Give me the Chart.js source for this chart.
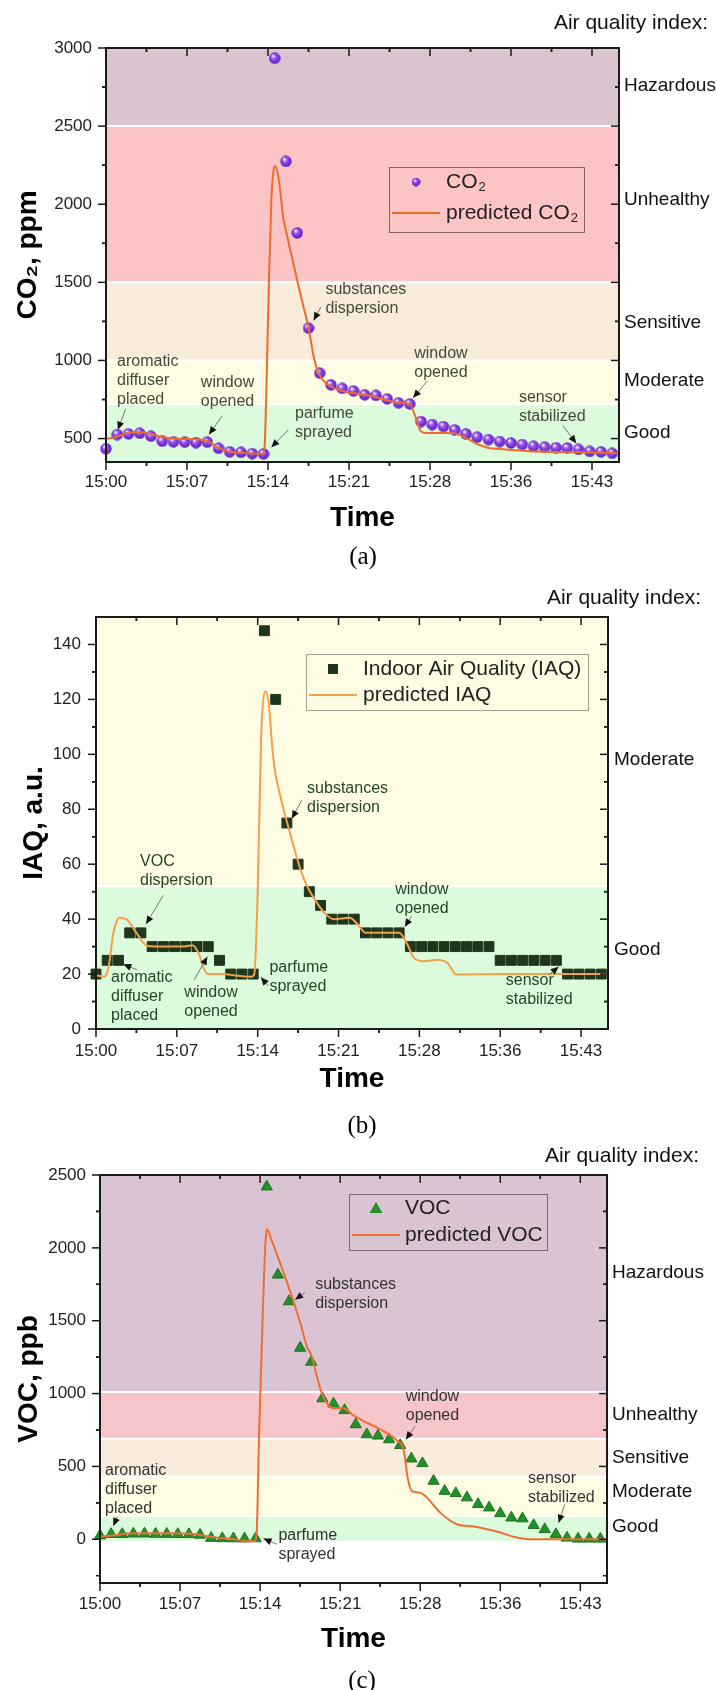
<!DOCTYPE html>
<html>
<head>
<meta charset="utf-8">
<title>Air quality index</title>
<script src="https://cdn.jsdelivr.net/npm/chart.js"></script>
<style>
  body { margin: 0; background: #fff; }
  #page { position: relative; width: 717px; height: 1690px; overflow: hidden; font-family: "Liberation Sans", Arial, sans-serif; }
  canvas { position: absolute; left: 0; }
  .aqi { position: absolute; font-size: 21px; line-height: 24px; color: #111; white-space: nowrap; }
  .cap { position: absolute; width: 60px; text-align: center; font-family: "Liberation Serif", "Times New Roman", serif; font-size: 25px; line-height: 28px; color: #000; }
</style>
</head>
<body>
<div id="page">
  <canvas id="chartA" width="717" height="570" style="top:0"></canvas>
  <canvas id="chartB" width="717" height="580" style="top:570px"></canvas>
  <canvas id="chartC" width="717" height="540" style="top:1150px"></canvas>
  <div class="aqi" style="top:10px; right:9px">Air quality index:</div>
  <div class="aqi" style="top:585px; right:16px">Air quality index:</div>
  <div class="aqi" style="top:1143px; right:18px">Air quality index:</div>
  <div class="cap" style="left:333px; top:542px">(a)</div>
  <div class="cap" style="left:332px; top:1111px">(b)</div>
  <div class="cap" style="left:332px; top:1666px">(c)</div>
</div>
<script>
/* time axis, minutes after 15:00 */
const minutes = [0, 1, 2, 3, 4, 5, 6, 7, 8, 9, 10, 11, 12, 13, 14, 15, 16, 17, 18, 19, 20, 21, 22,
  23, 24, 25, 26, 27, 28, 29, 30, 31, 32, 33, 34, 35, 36, 37, 38, 39, 40, 41, 42, 43, 44, 45];
const timeTickValues = [0, 7.2, 14.4, 21.6, 28.8, 36, 43.2];
const timeTickLabels = ['15:00', '15:07', '15:14', '15:21', '15:28', '15:36', '15:43'];
const timeMax = 45.6;

/* (a) CO2 */
const co2Values = [435, 526, 530, 534, 515, 483, 479, 477, 474, 477, 438, 415, 412, 404, 402, 2934,
  2274, 1816, 1207, 919, 844, 821, 805, 780, 776, 754, 729, 722, 609, 590, 577, 556, 530, 509, 494,
  481, 472, 462, 451, 445, 442, 440, 431, 418, 415, 406];
const predCo2T = [0, 1, 2, 3, 4, 5, 6, 7, 8, 9, 10, 11, 12, 13, 13.9, 14.1, 14.3, 14.5, 14.7, 14.9,
  15.05, 15.3, 15.5, 15.7, 16, 16.5, 17, 17.5, 18, 18.5, 19, 20, 21, 22, 23, 24, 25, 26, 27, 27.5,
  28, 28.5, 30, 31, 32, 33, 34, 35, 37, 39, 42, 45.6];
const predCo2V = [498, 512, 538, 540, 528, 510, 500, 497, 495, 485, 440, 415, 410, 405, 402, 450,
  950, 1550, 2030, 2220, 2244, 2180, 2080, 1940, 1830, 1670, 1510, 1360, 1210, 1010, 905, 833, 805,
  790, 780, 765, 745, 730, 720, 640, 545, 535, 535, 532, 505, 465, 440, 433, 422, 415, 412, 408];
const co2Ticks = [500, 1000, 1500, 2000, 2500, 3000];
const co2BandNames = ['Good', 'Moderate', 'Sensitive', 'Unhealthy', 'Hazardous'];
const co2BandLimits = [350, 720, 1000, 1500, 2500, 3000];
const co2BandLabelAt = [535, 870, 1240, 2030, 2760];

/* (b) IAQ */
const iaqValues = [20, 25, 25, 35, 35, 30, 30, 30, 30, 30, 30, 25, 20, 20, 20, 145, 120, 75, 60, 50,
  45, 40, 40, 40, 35, 35, 35, 35, 30, 30, 30, 30, 30, 30, 30, 30, 25, 25, 25, 25, 25, 25, 20, 20, 20, 20];
const predIaqT = [0, 0.7, 1.1, 1.55, 2.1, 2.7, 3.6, 4.5, 5.4, 7.7, 8.6, 9.2, 9.6, 10, 11, 13.8, 14.1,
  14.4, 14.7, 15.1, 15.4, 15.65, 15.9, 16.4, 17.3, 18.3, 18.8, 19.5, 20.4, 21.2, 22.6, 23.4, 24, 27,
  27.7, 28.3, 29.2, 30.4, 31.3, 32.1, 36.6, 45.6];
const predIaqV = [19.6, 19, 22, 35, 40.5, 40, 35, 30.4, 30, 30, 30.5, 27, 22, 20, 20, 19, 20, 50, 105,
  123, 118, 105, 95, 85, 71, 57, 52, 47, 42, 40, 40.5, 37.6, 35, 35, 31, 26, 24.7, 25.2, 24, 19.8, 20, 20];
const iaqTicks = [0, 20, 40, 60, 80, 100, 120, 140];
const iaqBandNames = ['Good', 'Moderate'];
const iaqBandLimits = [0, 52, 150];
const iaqBandLabelAt = [29, 98];

/* (c) VOC */
const vocValues = [25, 35, 35, 38, 38, 36, 36, 35, 34, 30, 8, 6, 5, 4, 6, 2420, 1815, 1632, 1313,
  1217, 966, 930, 885, 788, 719, 710, 685, 645, 553, 521, 400, 331, 315, 286, 240, 217, 178, 148,
  142, 96, 68, 34, 10, 3, 3, 3];
const predVocT = [0, 1, 3, 6, 8.7, 9.9, 12, 13.5, 13.9, 14.1, 14.3, 14.7, 15, 15.4, 16.2, 16.95,
  17.55, 18.15, 18.6, 19.05, 19.5, 20, 20.5, 21, 21.9, 22.8, 24, 25.5, 26.8, 27.3, 27.7, 28.05, 28.8,
  29.4, 30.6, 32.1, 33.6, 36, 37.2, 39, 45.6];
const predVocV = [18, 25, 41, 41, 34, 18, 0, -14, -14, 60, 700, 1700, 2130, 2060, 1895, 1735, 1598,
  1450, 1324, 1256, 1119, 993, 925, 900, 900, 850, 800, 742, 673, 616, 411, 331, 320, 286, 183, 103,
  87, 46, 18, 0, 0];
const vocTicks = [0, 500, 1000, 1500, 2000, 2500];
const vocBandNames = ['Good', 'Moderate', 'Sensitive', 'Unhealthy', 'Hazardous'];
const vocBandLimits = [-10, 160, 430, 690, 1010, 2500];
const vocBandLabelAt = [85, 325, 560, 855, 1830];

const FONT = '"Liberation Sans", Arial, sans-serif';
Chart.defaults.font.family = FONT;
Chart.defaults.color = '#222';

function pairs(xs, ys) {
    return xs.map((x, i) => ({ x: x, y: ys[i] }));
}

/* purple ball used as the CO2 marker */
function makeSphere(d) {
    const c = document.createElement('canvas');
    c.width = c.height = d;
    const g = c.getContext('2d');
    const r = d / 2;
    const grad = g.createRadialGradient(r * 0.7, r * 0.6, r * 0.1, r, r, r);
    grad.addColorStop(0, '#efe2ff');
    grad.addColorStop(0.35, '#9550ee');
    grad.addColorStop(1, '#5c16b8');
    g.fillStyle = grad;
    g.beginPath();
    g.arc(r, r, r - 0.3, 0, Math.PI * 2);
    g.fill();
    return c;
}
const sphere = makeSphere(12);

function arrow(ctx, x1, y1, x2, y2) {
    ctx.strokeStyle = '#777';
    ctx.lineWidth = 1;
    ctx.beginPath();
    ctx.moveTo(x1, y1);
    ctx.lineTo(x2, y2);
    ctx.stroke();
    const a = Math.atan2(y2 - y1, x2 - x1), L = 8, W = 3.5;
    ctx.fillStyle = '#111';
    ctx.beginPath();
    ctx.moveTo(x2, y2);
    ctx.lineTo(x2 - L * Math.cos(a) + W * Math.sin(a), y2 - L * Math.sin(a) - W * Math.cos(a));
    ctx.lineTo(x2 - L * Math.cos(a) - W * Math.sin(a), y2 - L * Math.sin(a) + W * Math.cos(a));
    ctx.closePath();
    ctx.fill();
}

/* text with "₂" drawn as a real subscript */
function richText(ctx, s, x, y, size) {
    const parts = s.split('₂');
    ctx.textBaseline = 'middle';
    ctx.textAlign = 'left';
    parts.forEach((part, i) => {
        ctx.font = size + 'px ' + FONT;
        ctx.fillText(part, x, y);
        x += ctx.measureText(part).width;
        if (i < parts.length - 1) {
            ctx.font = Math.round(size * 0.62) + 'px ' + FONT;
            ctx.fillText('2', x + 1, y + size * 0.28);
            x += ctx.measureText('2').width + 1;
        }
    });
}

function minorOf(major, lo, hi) {
    const step = major[1] - major[0];
    const out = [];
    major.forEach(v => [v - step / 2, v + step / 2].forEach(m => {
        if (m > lo && m < hi) out.push(m);
    }));
    return out;
}

function makePanelPlugin(p) {
    return {
        id: 'panel' + p.key,
        beforeDatasetsDraw(chart) {
            const { ctx, chartArea: a } = chart;
            const y = chart.scales.y;
            ctx.save();
            for (let i = 0; i < p.bandColors.length; i++) {
                const top = Math.max(a.top, y.getPixelForValue(p.bandLimits[i + 1]));
                const bot = Math.min(a.bottom, y.getPixelForValue(p.bandLimits[i]));
                ctx.fillStyle = p.bandColors[i];
                ctx.fillRect(a.left, top, a.right - a.left, bot - top);
            }
            ctx.strokeStyle = '#fff';
            ctx.lineWidth = 2;
            for (let i = 1; i < p.bandLimits.length - 1; i++) {
                const py = y.getPixelForValue(p.bandLimits[i]);
                ctx.beginPath();
                ctx.moveTo(a.left, py);
                ctx.lineTo(a.right, py);
                ctx.stroke();
            }
            ctx.restore();
        },
        afterDatasetsDraw(chart) {
            const { ctx } = chart;
            const x = chart.scales.x, y = chart.scales.y;
            ctx.save();
            /* notes with arrows */
            ctx.font = '16px ' + FONT;
            ctx.textBaseline = 'middle';
            ctx.textAlign = 'left';
            p.notes.forEach(n => {
                ctx.fillStyle = p.noteColor;
                const px = x.getPixelForValue(n.at[0]), py = y.getPixelForValue(n.at[1]);
                n.text.forEach((line, i) => ctx.fillText(line, px, py + i * 19));
                arrow(ctx, x.getPixelForValue(n.from[0]), y.getPixelForValue(n.from[1]),
                    x.getPixelForValue(n.to[0]), y.getPixelForValue(n.to[1]));
            });
            /* legend */
            const L = p.legend;
            const left = Math.round(x.getPixelForValue(L.at[0])), top = Math.round(y.getPixelForValue(L.at[1]));
            ctx.strokeStyle = L.border;
            ctx.lineWidth = 1;
            ctx.strokeRect(left + 0.5, top + 0.5, L.w, L.h);
            p.legendMarker(ctx, left + 27, top + L.row1);
            ctx.strokeStyle = p.lineColor;
            ctx.lineWidth = 2;
            ctx.beginPath();
            ctx.moveTo(left + 3, top + L.row2);
            ctx.lineTo(left + 51, top + L.row2);
            ctx.stroke();
            ctx.fillStyle = '#222';
            richText(ctx, p.pointLabel, left + L.textX, top + L.row1, 21);
            richText(ctx, p.lineLabel, left + L.textX, top + L.row2, 21);
            ctx.restore();
        },
        afterDraw(chart) {
            const { ctx, chartArea: a } = chart;
            const x = chart.scales.x, y = chart.scales.y;
            ctx.save();
            ctx.strokeStyle = '#1a1a1a';
            ctx.lineWidth = 1.5;
            const seg = (x1, y1, x2, y2) => { ctx.beginPath(); ctx.moveTo(x1, y1); ctx.lineTo(x2, y2); ctx.stroke(); };
            [[timeTickValues, 8], [minorOf(timeTickValues, 0, timeMax), 4]].forEach(([vals, len]) => vals.forEach(v => {
                const px = x.getPixelForValue(v);
                seg(px, a.bottom, px, a.bottom + len);
                seg(px, a.top, px, a.top + len);
            }));
            [[p.yTicks, 8], [minorOf(p.yTicks, p.yMin, p.yMax), 4]].forEach(([vals, len]) => vals.forEach(v => {
                const py = y.getPixelForValue(v);
                seg(a.left, py, a.left - len, py);
                seg(a.right, py, a.right - len, py);
            }));
            ctx.lineWidth = 2;
            ctx.strokeRect(a.left, a.top, a.right - a.left, a.bottom - a.top);
            ctx.restore();
        }
    };
}

function drawPanel(id, p) {
    const b = p.box;
    new Chart(document.getElementById(id), {
        type: 'scatter',
        data: {
            datasets: [{
                label: p.lineLabel,
                data: pairs(p.lineT, p.lineV),
                showLine: true,
                borderColor: p.lineColor,
                borderWidth: 2,
                pointRadius: 0,
                cubicInterpolationMode: 'monotone',
                order: 0
            }, {
                label: p.pointLabel,
                data: pairs(minutes, p.values),
                pointStyle: p.pointStyle,
                pointRadius: p.pointRadius,
                backgroundColor: p.pointColor,
                borderColor: p.pointBorder,
                borderWidth: 1,
                clip: false,
                order: 1
            }]
        },
        options: {
            responsive: false,
            animation: false,
            devicePixelRatio: 1,
            layout: { padding: { top: b.top, left: 0, right: 0, bottom: 0 } },
            plugins: { legend: { display: false }, tooltip: { enabled: false } },
            scales: {
                x: {
                    type: 'linear', position: 'bottom', min: 0, max: timeMax,
                    afterBuildTicks: s => { s.ticks = timeTickValues.map(v => ({ value: v })); },
                    afterFit: s => { s.height = b.bottom; },
                    ticks: { autoSkip: false, maxRotation: 0, padding: b.xTickPad, color: '#222',
                        font: { size: 17 }, callback: (v, i) => timeTickLabels[i] },
                    grid: { display: false, drawTicks: false },
                    border: { display: false },
                    title: { display: true, text: 'Time', color: '#000',
                        font: { size: 28, weight: 'bold' }, padding: { top: 0, bottom: b.xTitlePad } }
                },
                y: {
                    type: 'linear', position: 'left', min: p.yMin, max: p.yMax,
                    afterBuildTicks: s => { s.ticks = p.yTicks.map(v => ({ value: v })); },
                    afterFit: s => { s.width = b.left; },
                    ticks: { autoSkip: false, padding: b.yTickPad, color: '#222', font: { size: 17 },
                        callback: v => String(v) },
                    grid: { display: false, drawTicks: false },
                    border: { display: false },
                    title: { display: true, text: p.yTitle, color: '#000',
                        font: { size: 28, weight: 'bold' }, padding: { top: b.yTitlePad, bottom: 0 } }
                },
                yR: {
                    type: 'linear', position: 'right', min: p.yMin, max: p.yMax,
                    afterBuildTicks: s => { s.ticks = p.bandLabelAt.map(v => ({ value: v })); },
                    afterFit: s => { s.width = b.right; },
                    ticks: { autoSkip: false, padding: b.rTickPad, color: '#111', font: { size: 19 },
                        callback: (v, i) => p.bandNames[i] },
                    grid: { display: false, drawTicks: false },
                    border: { display: false }
                }
            }
        },
        plugins: [makePanelPlugin(p)]
    });
}

drawPanel('chartA', {
    key: 'A',
    box: { top: 48, left: 106, right: 98, bottom: 108, xTickPad: 10, yTickPad: 14, rTickPad: 5, xTitlePad: 35, yTitlePad: 11 },
    yMin: 350, yMax: 3000, yTicks: co2Ticks, yTitle: 'CO₂, ppm',
    values: co2Values, lineT: predCo2T, lineV: predCo2V,
    pointLabel: 'CO₂', lineLabel: 'predicted CO₂',
    pointStyle: sphere, pointRadius: 6, pointColor: '#8a44e6', pointBorder: '#6a24c6',
    lineColor: '#ee6c2b',
    bandNames: co2BandNames, bandLimits: co2BandLimits, bandLabelAt: co2BandLabelAt,
    bandColors: ['#dcfadc', '#fefde3', '#f8ebda', '#fdc4c5', '#dbc4d2'],
    noteColor: '#434a3c',
    notes: [
        { text: ['aromatic', 'diffuser', 'placed'], at: [0.98, 993], from: [1.75, 690], to: [1.05, 556] },
        { text: ['window', 'opened'], at: [8.43, 857], from: [10.35, 647], to: [9.15, 526] },
        { text: ['parfume', 'sprayed'], at: [16.8, 658], from: [16.2, 556], to: [14.7, 444] },
        { text: ['substances', 'dispersion'], at: [19.5, 1453], from: [19.1, 1342], to: [18.45, 1256] },
        { text: ['window', 'opened'], at: [27.4, 1043], from: [28.6, 872], to: [27.3, 761] },
        { text: ['sensor', 'stabilized'], at: [36.7, 761], from: [40.6, 584], to: [41.8, 470] }
    ],
    legend: { at: [25.2, 2237], w: 195, h: 65, row1: 15, row2: 46, textX: 57, border: '#8c6363' },
    legendMarker: (ctx, cx, cy) => ctx.drawImage(sphere, cx - 4.5, cy - 4.5, 9, 9)
});

drawPanel('chartB', {
    key: 'B',
    box: { top: 47, left: 96, right: 109, bottom: 121, xTickPad: 12, yTickPad: 15, rTickPad: 6, xTitlePad: 54, yTitlePad: 17 },
    yMin: 0, yMax: 150, yTicks: iaqTicks, yTitle: 'IAQ, a.u.',
    values: iaqValues, lineT: predIaqT, lineV: predIaqV,
    pointLabel: 'Indoor Air Quality (IAQ)', lineLabel: 'predicted IAQ',
    pointStyle: 'rect', pointRadius: 7, pointColor: '#1f361d', pointBorder: '#1f361d',
    lineColor: '#f3a04a',
    bandNames: iaqBandNames, bandLimits: iaqBandLimits, bandLabelAt: iaqBandLabelAt,
    bandColors: ['#dcfadc', '#fefde3'],
    noteColor: '#254525',
    notes: [
        { text: ['VOC', 'dispersion'], at: [3.92, 60.8], from: [6.0, 48.7], to: [4.46, 38.2] },
        { text: ['aromatic', 'diffuser', 'placed'], at: [1.34, 18.8], from: [3.68, 21.5], to: [2.43, 23.6] },
        { text: ['window', 'opened'], at: [7.87, 13.3], from: [8.73, 17.8], to: [9.92, 26.3] },
        { text: ['parfume', 'sprayed'], at: [15.45, 22.3], from: [15.36, 15.6], to: [14.68, 18.8] },
        { text: ['substances', 'dispersion'], at: [18.8, 87.5], from: [18.33, 83.3], to: [17.44, 76.6] },
        { text: ['window', 'opened'], at: [26.65, 50.8], from: [28.1, 41.1], to: [27.5, 37.2] },
        { text: ['sensor', 'stabilized'], at: [36.5, 17.6], from: [40.3, 19.6], to: [41.2, 22.7] }
    ],
    legend: { at: [18.7, 136.4], w: 282, h: 56, row1: 15, row2: 41, textX: 57, border: '#a0a090' },
    legendMarker: (ctx, cx, cy) => { ctx.fillStyle = '#1f361d'; ctx.fillRect(cx - 5, cy - 5, 10, 10); }
});

drawPanel('chartC', {
    key: 'C',
    box: { top: 25, left: 100, right: 110, bottom: 107, xTickPad: 11, yTickPad: 14, rTickPad: 5, xTitlePad: 34, yTitlePad: 12 },
    yMin: -300, yMax: 2500, yTicks: vocTicks, yTitle: 'VOC, ppb',
    values: vocValues, lineT: predVocT, lineV: predVocV,
    pointLabel: 'VOC', lineLabel: 'predicted VOC',
    pointStyle: 'triangle', pointRadius: 6.5, pointColor: '#23902a', pointBorder: '#1a7420',
    lineColor: '#ee6f32',
    bandNames: vocBandNames, bandLimits: vocBandLimits, bandLabelAt: vocBandLabelAt,
    bandColors: ['#dcfadc', '#fefde3', '#f9ecdc', '#f5c5c9', '#dac4d4'],
    noteColor: '#333333',
    notes: [
        { text: ['aromatic', 'diffuser', 'placed'], at: [0.45, 468], from: [1.56, 155], to: [1.2, 91] },
        { text: ['parfume', 'sprayed'], at: [16.05, 27], from: [15.9, -34], to: [14.7, 5] },
        { text: ['substances', 'dispersion'], at: [19.35, 1747], from: [18.45, 1694], to: [17.55, 1644] },
        { text: ['window', 'opened'], at: [27.5, 977], from: [28.35, 776], to: [27.5, 685] },
        { text: ['sensor', 'stabilized'], at: [38.5, 416], from: [41.8, 240], to: [41.25, 114] }
    ],
    legend: { at: [22.4, 2370], w: 198, h: 56, row1: 14, row2: 41, textX: 56, border: '#7a6a7a' },
    legendMarker: (ctx, cx, cy) => {
        ctx.fillStyle = '#23902a';
        ctx.beginPath();
        ctx.moveTo(cx, cy - 6);
        ctx.lineTo(cx + 6.5, cy + 5);
        ctx.lineTo(cx - 6.5, cy + 5);
        ctx.closePath();
        ctx.fill();
    }
});
</script>
</body>
</html>
